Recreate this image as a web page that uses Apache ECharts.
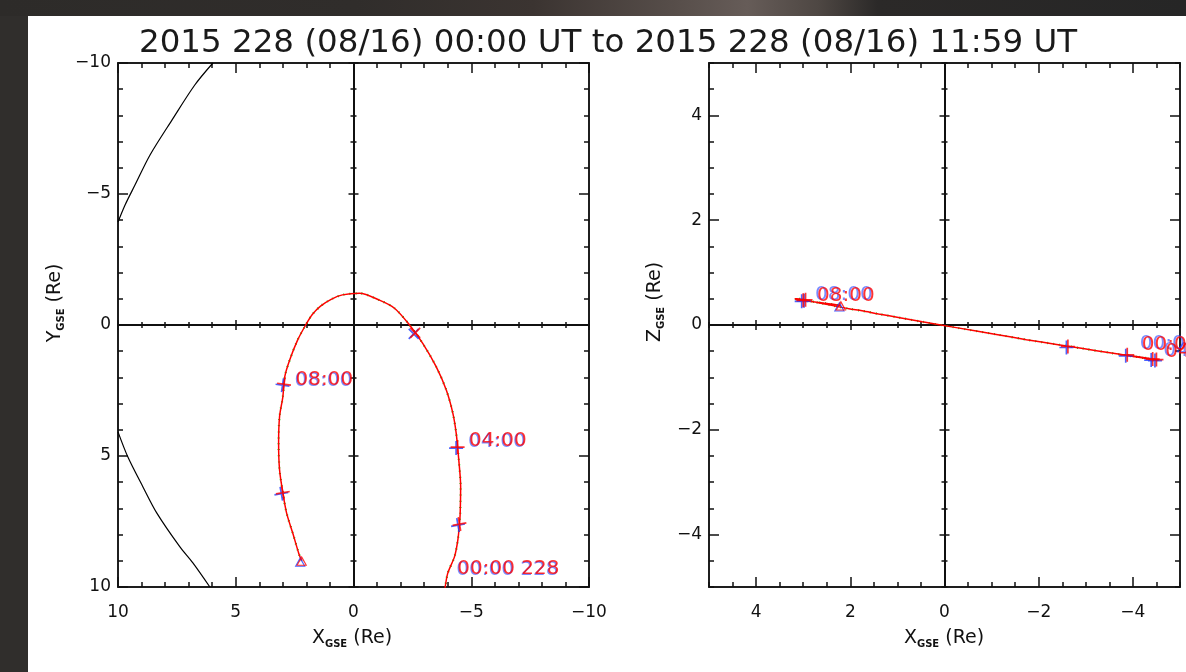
<!DOCTYPE html>
<html><head><meta charset="utf-8">
<script src="https://cdn.jsdelivr.net/npm/echarts@6/dist/echarts.min.js"></script>
<style>
html,body{margin:0;padding:0;background:#302e2c;overflow:hidden;width:1186px;height:672px}
#top{position:absolute;left:0;top:0;width:1186px;height:16px;background:linear-gradient(to right,#2d2b29 0%,#302d2b 30%,#3b3431 45%,#574e4a 57%,#665c58 63%,#4e4743 69%,#2b2928 74%,#262626 100%)}
#c{position:absolute;left:28px;top:16px;width:1158px;height:656px;background:#fff}
</style>
</head><body><div id="top"></div><div id="c"></div>
<script>
// ---------------- data ----------------
const titleText = '2015 228 (08/16) 00:00 UT to 2015 228 (08/16) 11:59 UT';
// orbit samples in time order (Re)
const orbitX = [-3.88,-4.0,-4.29,-4.43,-4.5,-4.53,-4.55,-4.47,-4.36,-4.22,-3.94,-3.51,-2.94,-2.38,-1.74,-1.1,-0.25,0.47,0.95,1.4,1.75,2.03,2.37,2.71,2.92,3.0,3.14,3.18,3.14,3.0,2.84,2.58,2.33,2.2];
const orbitY = [10.1,9.48,8.84,8.21,7.6,7.19,6.17,5.15,4.13,3.37,2.48,1.59,0.70,0.0,-0.64,-0.95,-1.21,-1.15,-0.98,-0.72,-0.4,0.0,0.57,1.34,1.98,2.74,3.5,4.5,5.53,6.4,7.18,7.94,8.7,9.0];
const orbitZ = [-0.57,-0.59,-0.63,-0.65,-0.66,-0.67,-0.67,-0.66,-0.65,-0.63,-0.59,-0.53,-0.45,-0.37,-0.28,-0.18,-0.05,0.06,0.14,0.21,0.27,0.31,0.37,0.43,0.47,0.49,0.5,0.5,0.49,0.47,0.45,0.42,0.39,0.37];
// time marks
const markTimes  = ['00:00','02:00','04:00','06:00','08:00','10:00','11:59'];
const markX      = [-3.88,-4.5,-4.42,-2.62,2.95,3.0,2.2];
const markY      = [10.1,7.6,4.66,0.3,2.26,6.4,9.0];
const markZ      = [-0.57,-0.66,-0.65,-0.41,0.48,0.47,0.37];
const markLabels = ['00:00 228','','04:00','','08:00','',''];
// boundary curves (XY plane)
const boundUpperX = [5.97,6.74,7.71,8.64,9.28,9.70,10.0];
const boundUpperY = [-10,-9.16,-7.82,-6.49,-5.34,-4.58,-3.93];
const boundLowerX = [10.0,9.58,8.94,8.35,7.37,6.82,6.1];
const boundLowerY = [4.08,5.04,6.18,7.18,8.47,9.08,10.0];
// ticks
const xyMajorTicks = [-10,-5,0,5,10];
const xyMinorStep = 1;
const xzMajorTicks = [-4,-2,0,2,4];
const xzMinorStep = 0.5;

// ---------------- styles ----------------
const ink = '#111';
const font = "'DejaVu Sans', sans-serif";
const RED = '#ff0000', BLUE = '#1e3cff', GREEN = '#00d000';
const PLUS = 'path://M0,4.4H10V5.6H0ZM4.4,0H5.6V10H4.4Z';
const TRI = 'path://M5,0L10,9L0,9ZM5,2.4L1.6,8L8.4,8Z';
const fmt = v => v < 0 ? '\u2212' + Math.abs(v) : String(v);
const lineStyle = {color: ink, width: 1.5};

function makeAxes(dim, grid, o) {
  function ax(pos, opts) {
    return Object.assign({
      type: 'value', gridIndex: grid, min: o.min, max: o.max, inverse: o.inverse,
      position: pos, interval: o.minorStep, silent: true,
      splitLine: {show: false}, splitArea: {show: false},
      axisLine: {show: true, onZero: false, lineStyle},
      axisLabel: {show: false},
      axisTick: {show: false},
      minorTick: {show: false}
    }, opts);
  }
  const major = (inside, len) => ({show: true, inside, length: len, customValues: o.majors, lineStyle});
  const minor = (inside, len) => ({show: true, inside, length: len, lineStyle});
  const zeroLine = {show: true, onZero: true, onZeroAxisIndex: o.zeroRef, lineStyle};
  return [
    ax(o.mainPos, {axisTick: major(true, 10), axisLabel: {show: true, customValues: o.majors, formatter: fmt, color: ink, fontFamily: font, fontSize: 17, margin: dim === 'x' ? 17 : 7}}),
    ax(o.mainPos, {axisTick: minor(true, 5)}),
    ax(o.oppPos, {axisTick: major(true, 10)}),
    ax(o.oppPos, {axisTick: minor(true, 5)}),
    ax(o.mainPos, {axisLine: zeroLine, axisTick: major(true, 5)}),
    ax(o.mainPos, {axisLine: zeroLine, axisTick: major(false, 5)}),
    ax(o.mainPos, {axisLine: zeroLine, axisTick: minor(true, 3)}),
    ax(o.mainPos, {axisLine: zeroLine, axisTick: minor(false, 3)})
  ];
}

const xAxes = [].concat(
  makeAxes('x', 0, {min: -10, max: 10, inverse: true, majors: xyMajorTicks, minorStep: xyMinorStep, zeroRef: 0, mainPos: 'bottom', oppPos: 'top'}),
  makeAxes('x', 1, {min: -5, max: 5, inverse: true, majors: xzMajorTicks, minorStep: xzMinorStep, zeroRef: 8, mainPos: 'bottom', oppPos: 'top'})
);
const yAxes = [].concat(
  makeAxes('y', 0, {min: -10, max: 10, inverse: true, majors: xyMajorTicks, minorStep: xyMinorStep, zeroRef: 0, mainPos: 'left', oppPos: 'right'}),
  makeAxes('y', 1, {min: -5, max: 5, inverse: false, majors: xzMajorTicks, minorStep: xzMinorStep, zeroRef: 8, mainPos: 'left', oppPos: 'right'})
);

const xyPts = orbitX.map((x, i) => [x, orbitY[i]]);
const xzPts = orbitX.map((x, i) => [x, orbitZ[i]]);

const rotXY = {'02:00': 10, '06:00': 45, '08:00': -8, '10:00': 10};
const rotXZ = {};
function markData(yArr, rot) {
  const last = markTimes.length - 1;
  return markTimes.map((t, i) => ({
    value: [markX[i], yArr[i]],
    symbol: i === last ? TRI : PLUS,
    symbolSize: i === last ? [11, 10] : 14,
    symbolRotate: rot[t] || 0
  }));
}
function labelData(yArr, offs, shift) {
  const out = [];
  markTimes.forEach((t, i) => {
    if (!markLabels[i]) return;
    const o = offs[t];
    out.push({value: [markX[i], yArr[i]], name: markLabels[i], label: {offset: [o[0] + shift[0], o[1] + shift[1]]}});
  });
  return out;
}
const offXY = {'00:00': [12, -21], '04:00': [11, -6], '08:00': [11, -4]};
const offXZ = {'00:00': [14, -10], '04:00': [12, -7], '08:00': [11, -4]};

function panelSeries(ai, pts, yArr, rot, offs, shadowShift) {
  return [
    {type: 'line', xAxisIndex: ai, yAxisIndex: ai, data: pts, symbol: 'none', smooth: 0.3, silent: true,
     lineStyle: {color: GREEN, width: 2.2, type: [1, 5]}, z: 3},
    {type: 'line', xAxisIndex: ai, yAxisIndex: ai, data: pts, symbol: 'none', smooth: 0.3, silent: true,
     lineStyle: {color: RED, width: 1.5}, z: 4},
    {type: 'scatter', xAxisIndex: ai, yAxisIndex: ai, data: markData(yArr, rot), silent: true,
     symbolOffset: [-1.5, 1], itemStyle: {color: BLUE}, z: 5},
    {type: 'scatter', xAxisIndex: ai, yAxisIndex: ai, data: markData(yArr, rot), silent: true,
     itemStyle: {color: RED}, z: 6},
    {type: 'scatter', xAxisIndex: ai, yAxisIndex: ai, data: labelData(yArr, offs, shadowShift), silent: true, clip: false,
     symbol: 'circle', symbolSize: 1, itemStyle: {color: 'rgba(0,0,0,0)'}, z: 7,
     label: {show: true, position: 'right', distance: 0, formatter: '{b}', color: 'rgba(30,60,255,0.75)', fontFamily: font, fontSize: 20, align: 'left', verticalAlign: 'middle'}},
    {type: 'scatter', xAxisIndex: ai, yAxisIndex: ai, data: labelData(yArr, offs, [0, 0]), silent: true, clip: false,
     symbol: 'circle', symbolSize: 1, itemStyle: {color: 'rgba(0,0,0,0)'}, z: 8,
     label: {show: true, position: 'right', distance: 0, formatter: '{b}', color: RED, fontFamily: font, fontSize: 20, align: 'left', verticalAlign: 'middle'}}
  ];
}

const series = [
  {type: 'line', xAxisIndex: 0, yAxisIndex: 0, data: boundUpperX.map((x, i) => [x, boundUpperY[i]]), symbol: 'none', smooth: 0.3, silent: true, lineStyle: {color: '#000', width: 1.2}},
  {type: 'line', xAxisIndex: 0, yAxisIndex: 0, data: boundLowerX.map((x, i) => [x, boundLowerY[i]]), symbol: 'none', smooth: 0.3, silent: true, lineStyle: {color: '#000', width: 1.2}}
].concat(
  panelSeries(0, xyPts, markY, rotXY, offXY, [-1, 1]),
  panelSeries(8, xzPts, markZ, rotXZ, offXZ, [-2, -1])
);

function axisTitle(x, y, letter, rotated) {
  return {
    type: 'text', x, y, rotation: rotated ? Math.PI / 2 : 0, silent: true,
    style: {
      text: '{m|' + letter + '}{s|GSE}{m| (Re)}',
      align: 'center', verticalAlign: 'middle',
      rich: {
        m: {fontSize: 19, fontFamily: font, fill: ink, lineHeight: 22},
        s: {fontSize: 10, fontFamily: font, fontWeight: 'bold', fill: ink, verticalAlign: 'bottom', lineHeight: 22}
      }
    }
  };
}

const chart = echarts.init(document.getElementById('c'), null, {renderer: 'canvas'});
chart.setOption({
  animation: false,
  backgroundColor: '#ffffff',
  grid: [
    {left: 90, top: 47, width: 471, height: 524, containLabel: false},
    {left: 681, top: 47, width: 471, height: 524, containLabel: false}
  ],
  xAxis: xAxes,
  yAxis: yAxes,
  series,
  graphic: [
    {type: 'text', x: 580, y: 28, silent: true,
     style: {text: titleText, fontSize: 32.5, fontFamily: font, fill: '#1a1a1a', align: 'center', verticalAlign: 'middle'}},
    axisTitle(324, 622, 'X', false),
    axisTitle(916, 622, 'X', false),
    axisTitle(27, 287, 'Y', true),
    axisTitle(627, 286, 'Z', true)
  ]
});
</script>
</body></html>
